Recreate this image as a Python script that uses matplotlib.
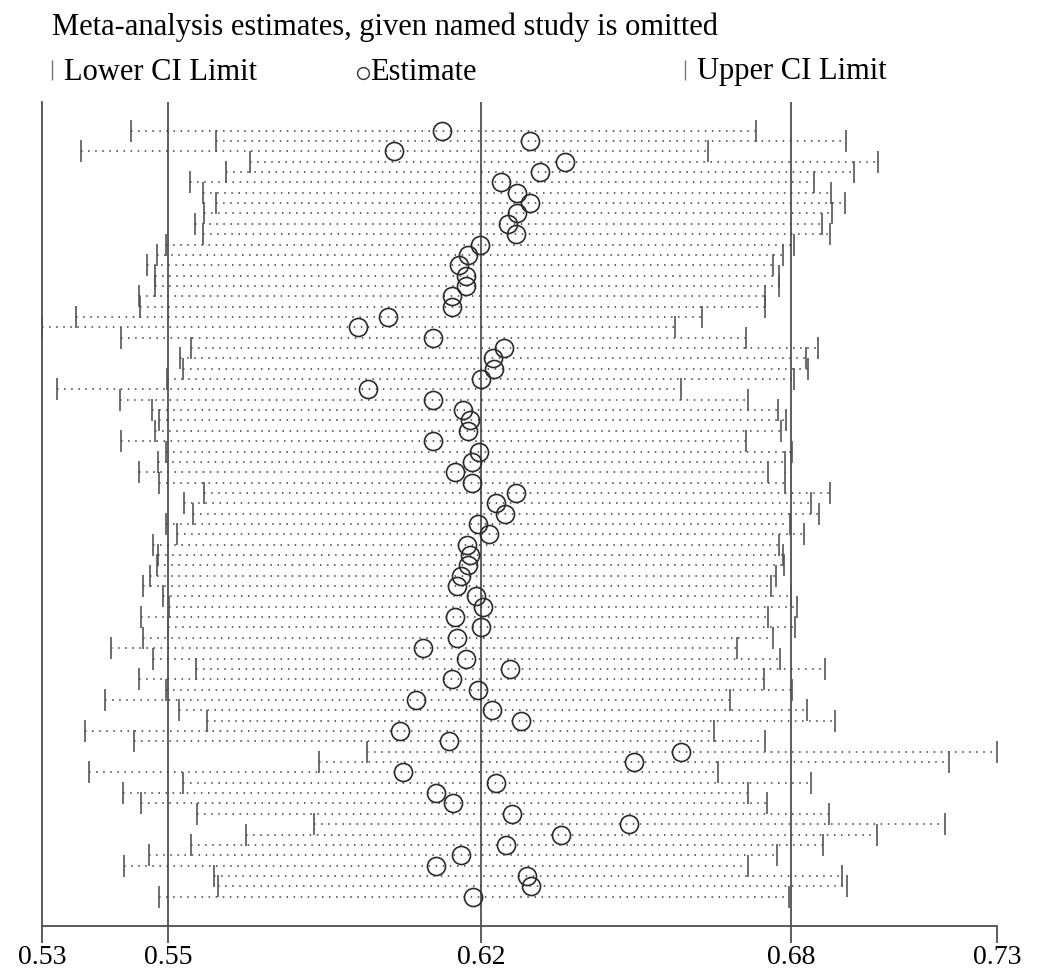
import numpy as np
import matplotlib.pyplot as plt
from matplotlib.lines import Line2D

plt.rcParams['font.family'] = ['Liberation Serif', 'DejaVu Serif']
plt.rcParams['lines.scale_dashes'] = False

# leave-one-out estimates, one row per omitted study (top to bottom)
estimate = [0.6096, 0.6279, 0.5996, 0.6352, 0.6300, 0.6219, 0.6252, 0.6279, 0.6252, 0.6233,
            0.6250, 0.6175, 0.6150, 0.6132, 0.6146, 0.6146, 0.6117, 0.6117, 0.5984, 0.5921,
            0.6077, 0.6225, 0.6202, 0.6205, 0.6177, 0.5942, 0.6077, 0.6140, 0.6154, 0.6149,
            0.6077, 0.6173, 0.6158, 0.6123, 0.6158, 0.6250, 0.6208, 0.6227, 0.6171, 0.6194,
            0.6148, 0.6155, 0.6149, 0.6135, 0.6127, 0.6167, 0.6181, 0.6122, 0.6177, 0.6128,
            0.6057, 0.6146, 0.6238, 0.6117, 0.6171, 0.6042, 0.6201, 0.6260, 0.6008, 0.6110,
            0.6594, 0.6496, 0.6015, 0.6208, 0.6083, 0.6119, 0.6241, 0.6485, 0.6343, 0.6229,
            0.6136, 0.6083, 0.6273, 0.6281, 0.6160]
lower = [0.5448, 0.5625, 0.5344, 0.5696, 0.5646, 0.5571, 0.5598, 0.5625, 0.5600, 0.5581,
         0.5598, 0.5521, 0.5502, 0.5481, 0.5498, 0.5498, 0.5465, 0.5467, 0.5333, 0.52625,
         0.5427, 0.5573, 0.5550, 0.5556, 0.5523, 0.5294, 0.5425, 0.5492, 0.5506, 0.5498,
         0.5427, 0.5521, 0.5504, 0.5465, 0.5506, 0.5600, 0.5558, 0.5577, 0.5521, 0.5544,
         0.5494, 0.5504, 0.5502, 0.5488, 0.5473, 0.5515, 0.5527, 0.5469, 0.5525, 0.5473,
         0.5406, 0.5494, 0.5583, 0.5465, 0.5521, 0.5394, 0.5548, 0.5606, 0.5352, 0.5454,
         0.5940, 0.5839, 0.5360, 0.5556, 0.5431, 0.5469, 0.5585, 0.5829, 0.5688, 0.5573,
         0.5485, 0.5433, 0.5621, 0.5629, 0.5506]
upper = [0.6750, 0.6938, 0.6650, 0.7004, 0.6954, 0.6871, 0.6906, 0.6935, 0.6908, 0.6888,
         0.6904, 0.6829, 0.6806, 0.6785, 0.6798, 0.6798, 0.6769, 0.6769, 0.6638, 0.6581,
         0.6729, 0.6879, 0.6854, 0.6858, 0.6829, 0.6594, 0.6733, 0.6796, 0.6813, 0.6802,
         0.6729, 0.6825, 0.6810, 0.6775, 0.6810, 0.6904, 0.6865, 0.6881, 0.6821, 0.6850,
         0.6798, 0.6806, 0.6808, 0.6792, 0.6781, 0.6823, 0.6835, 0.6775, 0.6831, 0.6785,
         0.6710, 0.6800, 0.6894, 0.6767, 0.6825, 0.6696, 0.6856, 0.6915, 0.6663, 0.6769,
         0.72521, 0.7152, 0.6671, 0.6865, 0.6733, 0.6773, 0.6902, 0.7144, 0.7002, 0.6890,
         0.6794, 0.6733, 0.6929, 0.6940, 0.6819]
# pooled estimate with all studies: lower CI, estimate, upper CI
overall = [0.5525, 0.6177, 0.6823]

W, H = 1048, 975
FS = 22


def fx(px):
    return px / W


def fy(py):
    return 1 - py / H


fig = plt.figure(figsize=(W / 100, H / 100), dpi=100)
ax = fig.add_axes([fx(42), fy(926), fx(997) - fx(42), fy(102) - fy(926)])

n = len(estimate)
ypos = np.arange(n)[::-1]

ax.hlines(ypos, lower, upper, colors='#3a3a3a', linewidth=1.1, linestyles=[(0, (1.1, 4.0))])
ax.plot(lower, ypos, ls='none', marker='|', ms=16, mew=1.2, color='#555555', clip_on=False)
ax.plot(upper, ypos, ls='none', marker='|', ms=16, mew=1.2, color='#555555', clip_on=False)
ax.plot(estimate, ypos, ls='none', marker='o', ms=13, mfc='none', mec='#2a2a2a', mew=1.2,
        clip_on=False, zorder=4)

for v in overall:
    ax.axvline(v, color='#505050', lw=1.3, zorder=1)

ticks = [min(lower)] + overall + [max(upper)]
ax.set_xlim(ticks[0], ticks[-1])
ax.set_ylim(-2.84, n - 1 + 2.77)
ax.set_xticks(ticks)
ax.set_xticklabels([f'{t:.2f}' for t in ticks])
ax.tick_params(axis='x', length=12, width=1.3, color='#505050', pad=2, labelsize=20)
ax.set_yticks([])
for s in ['top', 'right']:
    ax.spines[s].set_visible(False)
for s in ['left', 'bottom']:
    ax.spines[s].set_color('#505050')
    ax.spines[s].set_linewidth(1.3)

fig.text(fx(52), fy(34.5), 'Meta-analysis estimates, given named study is omitted',
         fontsize=FS, va='baseline', ha='left')

fig.add_artist(Line2D([fx(52)], [fy(70)], marker='|', ms=14.5, mew=1.0, color='#777777',
                      transform=fig.transFigure))
fig.text(fx(64), fy(79.5), 'Lower CI Limit', fontsize=FS, va='baseline', ha='left')
fig.add_artist(Line2D([fx(363)], [fy(72.5)], marker='o', ms=8.5, mfc='none', mec='#333333',
                      mew=1.0, transform=fig.transFigure))
fig.text(fx(370), fy(79.5), 'Estimate', fontsize=FS, va='baseline', ha='left')
fig.add_artist(Line2D([fx(685)], [fy(70)], marker='|', ms=14.5, mew=1.0, color='#777777',
                      transform=fig.transFigure))
fig.text(fx(697), fy(79.5), 'Upper CI Limit', fontsize=FS, va='baseline', ha='left')

fig.savefig('out.png', dpi=100, facecolor='white')
